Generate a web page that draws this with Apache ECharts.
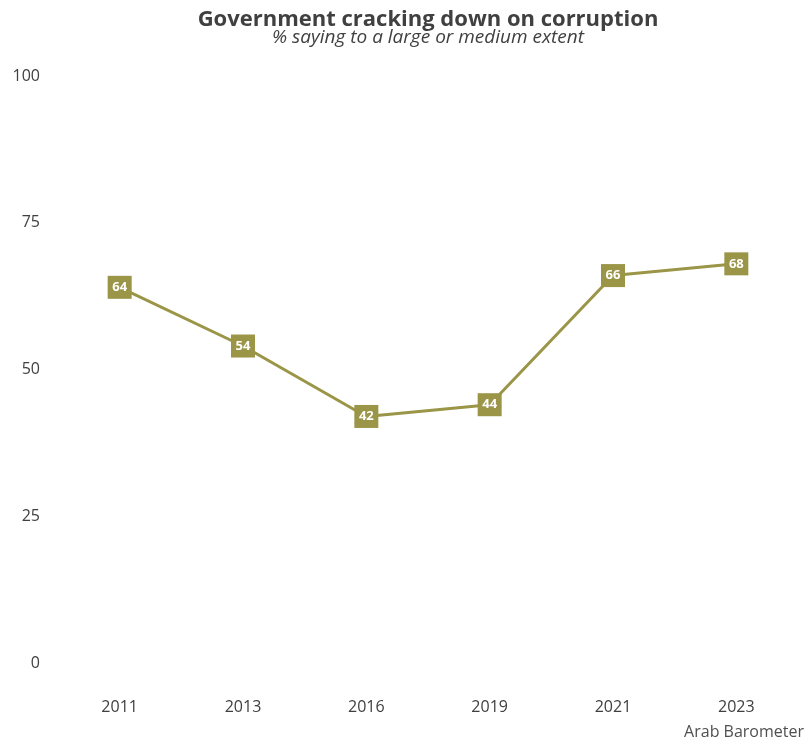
<!DOCTYPE html>
<html>
<head>
<meta charset="utf-8">
<script src="https://cdn.jsdelivr.net/npm/echarts@6/dist/echarts.min.js"></script>
<style>html,body{margin:0;padding:0;background:#fff}#c{width:812px;height:748px}</style>
</head>
<body>
<div id="c"></div>
<script>
const years = ['2011', '2013', '2016', '2019', '2021', '2023'];
const values = [64, 54, 42, 44, 66, 68];
const yTicks = [0, 25, 50, 75, 100];

const FONT = 'Open Sans';
const COLOR = '#9a9547';
const chart = echarts.init(document.getElementById('c'), null, {renderer: 'canvas'});
chart.setOption({
  backgroundColor: '#ffffff',
  animation: false,
  title: [{
    text: 'Government cracking down on corruption',
    subtext: '% saying to a large or medium extent',
    left: 423, textAlign: 'center', top: 3, itemGap: 0,
    textStyle: {fontFamily: FONT, fontWeight: 'bold', fontSize: 22, lineHeight: 24, color: '#404040'},
    subtextStyle: {fontFamily: FONT, fontStyle: 'italic', fontSize: 19, lineHeight: 12, color: '#404040'}
  }, {
    text: 'Arab Barometer',
    right: 3, bottom: 3,
    textStyle: {fontFamily: FONT, fontWeight: 'normal', fontSize: 16, color: '#505050'}
  }],
  grid: {left: 58, right: 14, top: 76, bottom: 85, containLabel: false},
  xAxis: {
    type: 'category', data: years, boundaryGap: true,
    axisLine: {show: false}, axisTick: {show: false},
    axisLabel: {fontFamily: FONT, fontSize: 16, color: '#404040', margin: 36}
  },
  yAxis: {
    type: 'value', min: yTicks[0], max: yTicks[yTicks.length - 1], interval: 25,
    splitLine: {show: false}, axisLine: {show: false}, axisTick: {show: false},
    axisLabel: {fontFamily: FONT, fontSize: 16, color: '#404040', margin: 18}
  },
  series: [{
    type: 'line', data: values,
    lineStyle: {color: COLOR, width: 3},
    itemStyle: {color: COLOR},
    symbol: 'rect', symbolSize: [24, 23],
    label: {show: true, position: 'inside', color: '#ffffff', fontFamily: FONT, fontWeight: 'bold', fontSize: 13}
  }]
});
</script>
</body>
</html>
